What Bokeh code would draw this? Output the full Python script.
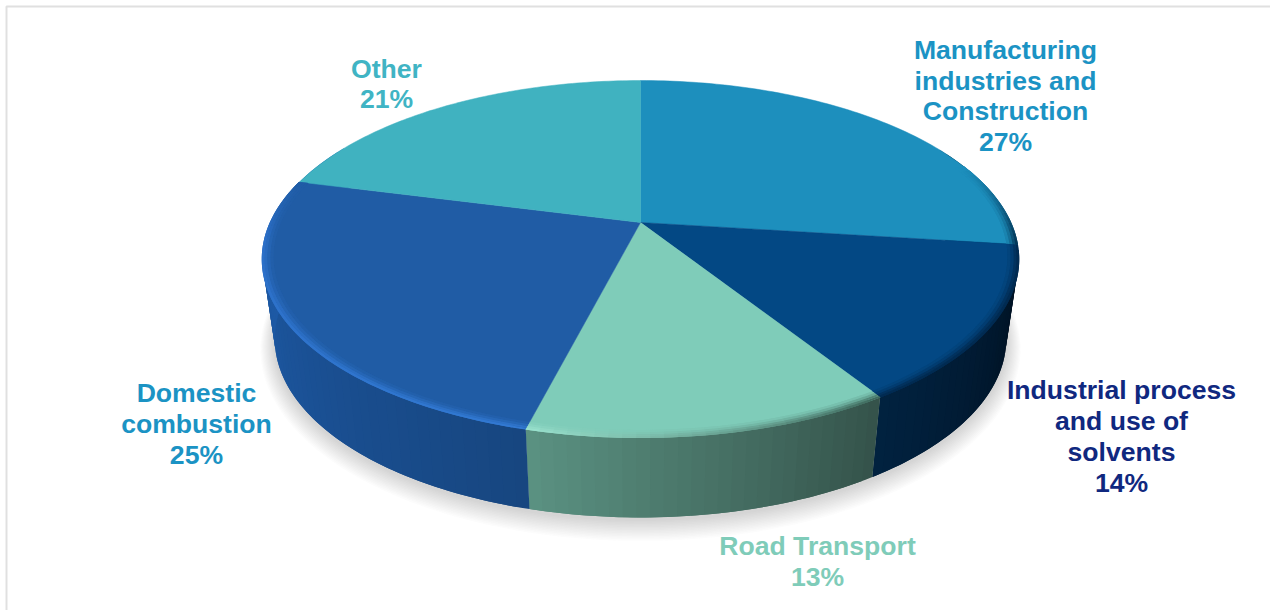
import numpy as np
from bokeh.plotting import figure
from bokeh.embed import file_html
from bokeh.resources import INLINE
from bokeh.core.properties import value

categories = ["Manufacturing\nindustries and\nConstruction", "Industrial process\nand use of\nsolvents",
              "Road Transport", "Domestic\ncombustion", "Other"]
shares = [27, 14, 13, 25, 21]
top_colors = ["#1D8FBD", "#034884", "#7FCCB9", "#205CA5", "#40B2C0"]
label_colors = ["#1B93C4", "#10287F", "#7FCCB9", "#1B93C4", "#40B4C4"]
side_start = ["#00101F", "#000F1E", "#34524A", "#174680", "#1F5FB0"]
side_end = ["#00101F", "#012240", "#5B9282", "#1F5FB0", "#1F5FB0"]
bevel_start = ["#0A4A70", "#012B52", "#3F6A5E", "#3279D2", "#2A6CC4"]
bevel_end = ["#023050", "#012B52", "#9AE2CE", "#2A6CC4", "#2A6CC4"]
label_x = [1005, 1121, 817, 196, 386]
label_y = [95.5, 436, 561, 423.5, 83.5]

W, H = 1270, 610
CX, CY, K = 640, 222, 0.2045


def hex2rgb(h):
    return np.array([int(h[i:i + 2], 16) for i in (1, 3, 5)], dtype=float)


def mix(a, b, t):
    c = hex2rgb(a) * (1 - t) + hex2rgb(b) * t
    return "#%02x%02x%02x" % tuple(int(round(v)) for v in c)


def top_pt(th, r=1.0):
    u, v = r * np.sin(th), r * np.cos(th)
    w = 1 + K * v
    return CX + 370 * u / w, CY - 171 * v / w


def bottom_pt(th, ax=358, by=171, dy=80):
    u, v = np.sin(th), np.cos(th)
    w = 1 + K * v
    return CX + ax * u / w, CY + dy - by * v / w


p = figure(width=W, height=H, x_range=(0, W), y_range=(H, 0), output_backend="svg",
           toolbar_location=None, min_border=0, outline_line_color=None, background_fill_color="white")
p.xaxis.visible = False
p.yaxis.visible = False
p.grid.visible = False

# chart frame (top and left edges)
p.line([6, 6, W], [H, 6, 6], line_color="#E0E0E0", line_width=2)

# soft shadow below the pie
ths = np.linspace(np.pi / 2, 3 * np.pi / 2, 120)
for g in range(14, 0, -1):
    sx, sy = bottom_pt(ths, 358 + g, 171 + g * 0.9, 80 + 2 + g * 0.4)
    p.patch(sx, sy, fill_color="#707078", fill_alpha=0.018, line_color=None)

edges = np.cumsum([0] + shares) / sum(shares) * 2 * np.pi

# side wall: overlapping strips painted in order, so no seams show
xs, ys, cols = [], [], []
for i in range(len(shares)):
    a, b = edges[i], edges[i + 1]
    n = max(int((b - a) / 0.03), 2)
    steps = np.linspace(a, b, n + 1)
    for j in range(n):
        t0, t1 = steps[j], steps[j + 1]
        if np.cos((t0 + t1) / 2) > 0.45:
            continue
        t2 = min(t1 + (t1 - t0), b)
        arc = np.linspace(t0, t2, 4)
        x0, y0 = top_pt(arc)
        x1, y1 = bottom_pt(arc[::-1])
        xs.append(list(x0) + list(x1))
        ys.append(list(y0) + list(y1))
        cols.append(mix(side_start[i], side_end[i], (j + 0.5) / n))
p.patches(xs, ys, fill_color=cols, line_color=None)

# top face
for i in range(len(shares)):
    th = np.linspace(edges[i], edges[i + 1], 90)
    x, y = top_pt(th)
    p.patch([CX] + list(x), [CY] + list(y), fill_color=top_colors[i], line_color=top_colors[i], line_width=0.5)

# bevel along the front of the rim
xs, ys, cols = [], [], []
rings = [(0.972, 0.15), (0.98, 0.4), (0.988, 0.75), (0.995, 1.0)]
for i in range(len(shares)):
    a, b = edges[i], edges[i + 1]
    n = max(int((b - a) / 0.03), 2)
    steps = np.linspace(a, b, n + 1)
    for j in range(n):
        t0, t1 = steps[j], steps[j + 1]
        mid = (t0 + t1) / 2
        if np.sin(mid) > 0:
            fade = np.clip((0.35 - np.cos(mid)) / 0.5, 0, 1)
        else:
            fade = np.clip((0.25 - np.cos(mid)) / 0.35, 0, 1)
        if fade <= 0:
            continue
        tone = (j + 0.5) / n
        t2 = min(t1 + (t1 - t0), b)
        arc = np.linspace(t0, t2, 4)
        for k, (r, s) in enumerate(rings):
            r2 = rings[k + 1][0] if k + 1 < len(rings) else 1.002
            base = mix(bevel_start[i], bevel_end[i], tone)
            xa, ya = top_pt(arc, r)
            xb, yb = top_pt(arc[::-1], r2)
            xs.append(list(xa) + list(xb))
            ys.append(list(ya) + list(yb))
            cols.append(mix(top_colors[i], base, s * fade))
p.patches(xs, ys, fill_color=cols, line_color=None)

# labels
texts = [f"{c}\n{s}%" for c, s in zip(categories, shares)]
p.text(x=label_x, y=label_y, text=texts, text_color=label_colors, text_align="center", text_baseline="middle",
       text_font=value("Liberation Sans"), text_font_style="bold", text_font_size="26.6px", text_line_height=1.03)

open("out.html", "w").write(file_html(p, INLINE))
